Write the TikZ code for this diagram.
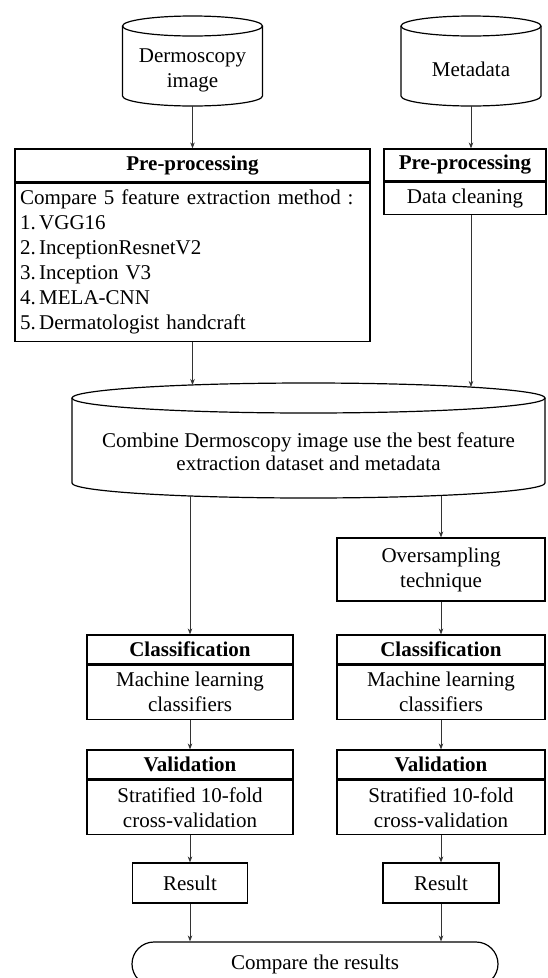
\documentclass[tikz,border=0pt]{standalone}
\usepackage{fontspec}
\setmainfont{Liberation Serif}
\usetikzlibrary{calc,arrows.meta}

\begin{document}
\begin{tikzpicture}[x=1pt,y=-1pt,
  every node/.style={font=\fontsize{21}{25}\selectfont,align=center},
  box/.style={draw,line width=1.2pt,inner sep=0pt},
  hdr/.style={box,font=\fontsize{21}{25}\selectfont\bfseries},
  arr/.style={-{Stealth[length=6pt,width=4.5pt]},line width=0.7pt,black!80},
  can/.style={line width=1.2pt}]
\useasboundingbox (0,0) rectangle (548,978);
\clip (0,0) rectangle (548,978);
\coordinate (c1) at (192.5,26);
\draw[can] ($(c1)+(-70,0)$) -- ++(0,70) arc[start angle=180,end angle=360,x radius=70pt,y radius=10pt] -- ++(0,-70);
\draw[can] (c1) ellipse [x radius=70pt,y radius=10pt];
\node (dermo) at ($(c1)+(0,44)$) {Dermoscopy\\image};
\coordinate (c1b) at ($(c1)+(0,80)$);
\coordinate (c2) at (471,26);
\draw[can] ($(c2)+(-70,0)$) -- ++(0,70) arc[start angle=180,end angle=360,x radius=70pt,y radius=10pt] -- ++(0,-70);
\draw[can] (c2) ellipse [x radius=70pt,y radius=10pt];
\node (meta) at ($(c2)+(0,43)$) {Metadata};
\coordinate (c2b) at ($(c2)+(0,80)$);
\node[hdr,minimum width=355pt,minimum height=33pt] (pre1h) at (192.5,165.5) {Pre-processing};
\node[box,anchor=north,minimum width=355pt,minimum height=158pt,text width=345pt,inner xsep=5pt,align=left] (pre1b) at (pre1h.south) {Compare 5 feature extraction method :\\1.\,VGG16\\2.\,InceptionResnetV2\\3.\,Inception V3\\4.\,MELA-CNN\\5.\,Dermatologist handcraft};
\node[hdr,minimum width=162pt,minimum height=32pt] (pre2h) at (465,165) {Pre-processing};
\node[box,anchor=north,minimum width=162pt,minimum height=32pt] (pre2b) at (pre2h.south) {Data cleaning};
\coordinate (c3) at (308.5,398);
\draw[can] ($(c3)+(-236.5,0)$) -- ++(0,85) arc[start angle=180,end angle=360,x radius=236.5pt,y radius=15pt] -- ++(0,-85);
\draw[can] (c3) ellipse [x radius=236.5pt,y radius=15pt];
\node[font=\fontsize{21}{23.5}\selectfont] (comb) at ($(c3)+(0,53.5)$) {Combine Dermoscopy image use the best feature\\extraction dataset and metadata};
\coordinate (in1) at (192.5,385);
\coordinate (in2) at (471,387);
\coordinate (out1) at (190,496);
\coordinate (out2) at (441,495.5);
\node[box,minimum width=208pt,minimum height=63pt] (ovs) at (441,569.5) {Oversampling\\technique};
\node[hdr,minimum width=206pt,minimum height=29pt] (cls1h) at (190,649.5) {Classification};
\node[box,anchor=north,minimum width=206pt,minimum height=54pt] (cls1b) at (cls1h.south) {Machine learning\\classifiers};
\node[hdr,minimum width=208pt,minimum height=29pt] (cls2h) at (441,649.5) {Classification};
\node[box,anchor=north,minimum width=208pt,minimum height=54pt] (cls2b) at (cls2h.south) {Machine learning\\classifiers};
\node[hdr,minimum width=206pt,minimum height=29pt] (val1h) at (190,764.5) {Validation};
\node[box,anchor=north,minimum width=206pt,minimum height=54pt] (val1b) at (val1h.south) {Stratified 10-fold\\cross-validation};
\node[hdr,minimum width=208pt,minimum height=29pt] (val2h) at (441,764.5) {Validation};
\node[box,anchor=north,minimum width=208pt,minimum height=54pt] (val2b) at (val2h.south) {Stratified 10-fold\\cross-validation};
\node[box,minimum width=115pt,minimum height=40pt] (res1) at (190,883) {Result};
\node[box,minimum width=116pt,minimum height=40pt] (res2) at (441,883) {Result};
\node[box,rounded corners=22pt,minimum width=366pt,minimum height=44pt] (cmp) at (315,964) {Compare the results};
\draw[arr] (c1b) -- (c1b |- pre1h.north);
\draw[arr] (c2b) -- (c2b |- pre2h.north);
\draw[arr] (pre1b.south) -- (in1);
\draw[arr] (c2b |- pre2b.south) -- (in2);
\draw[arr] (out1) -- (out1 |- cls1h.north);
\draw[arr] (out2) -- (ovs.north);
\draw[arr] (ovs.south) -- (cls2h.north);
\draw[arr] (cls1b.south) -- (val1h.north);
\draw[arr] (cls2b.south) -- (val2h.north);
\draw[arr] (val1b.south) -- (res1.north);
\draw[arr] (val2b.south) -- (res2.north);
\draw[arr] (res1.south) -- (res1.south |- cmp.north);
\draw[arr] (res2.south) -- (res2.south |- cmp.north);
\end{tikzpicture}
\end{document}
